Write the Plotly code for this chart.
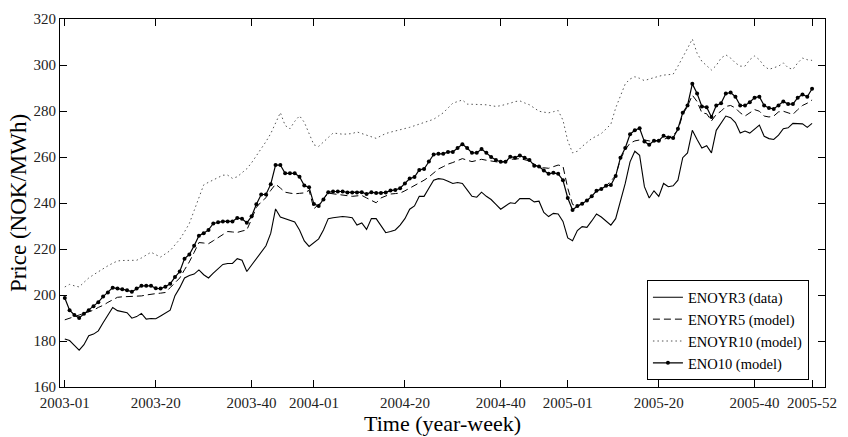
import plotly.graph_objects as go

# week index 0 = 2003-01 ... 156 = 2005-52
tick_pos = [0, 19, 39, 52, 71, 91, 105, 124, 144, 156]
tick_text = ["2003-01", "2003-20", "2003-40", "2004-01", "2004-20", "2004-40",
             "2005-01", "2005-20", "2005-40", "2005-52"]

enoyr3 = [180.9, 180.2, 178.1, 176.0, 178.4, 182.3, 183.0, 184.4, 187.9, 191.3,
          194.6, 193.2, 192.7, 192.3, 189.9, 190.6, 192.0, 189.5, 189.8, 189.7,
          190.9, 192.0, 193.4, 199.7, 203.2, 207.4, 208.5, 209.1, 210.9, 208.8,
          207.4, 209.5, 211.3, 213.3, 213.7, 213.7, 215.8, 215.1, 210.2, 213.0,
          215.8, 218.6, 221.4, 226.9, 237.4, 233.9, 233.2, 232.8, 231.8, 228.3,
          223.5, 221.1, 222.8, 224.4, 228.3, 233.2, 233.6, 233.9, 234.1, 233.9,
          233.6, 230.4, 231.3, 228.5, 233.2, 233.2, 230.4, 227.1, 227.6, 228.3,
          230.4, 233.2, 237.3, 238.7, 242.9, 242.9, 246.4, 249.9, 250.6, 250.3,
          249.5, 248.5, 248.9, 248.5, 245.7, 242.9, 242.5, 244.7, 242.9, 241.5,
          239.4, 237.3, 238.7, 240.1, 239.8, 241.9, 241.9, 241.9, 240.5, 240.8,
          235.9, 234.1, 235.5, 235.2, 232.0, 224.8, 223.6, 228.0, 229.7, 229.4,
          232.2, 235.2, 233.9, 232.2, 230.4, 233.2, 240.8, 248.5, 257.9, 262.5,
          260.7, 247.1, 242.2, 245.3, 242.9, 248.5, 247.1, 247.5, 249.9, 259.7,
          261.8, 271.6, 267.6, 263.9, 264.9, 261.8, 271.6, 275.0, 277.8, 277.1,
          275.0, 270.4, 271.3, 270.4, 272.3, 273.9, 269.0, 268.0, 267.6, 269.5,
          272.3, 272.7, 274.6, 274.6, 274.4, 272.9, 274.6]

enoyr5 = [189.2, 189.8, 190.5, 191.3, 192.0, 192.8, 193.4, 194.6, 195.5, 196.8,
          198.0, 199.0, 199.2, 199.3, 199.3, 199.4, 199.6, 200.0, 200.4, 200.6,
          200.8, 201.1, 203.2, 205.5, 207.4, 211.0, 214.4, 218.5, 222.8, 222.6,
          222.3, 223.6, 224.9, 226.5, 227.6, 227.4, 227.2, 227.8, 228.3, 233.0,
          238.1, 240.5, 242.3, 245.5, 248.2, 246.5, 244.7, 244.3, 244.0, 244.2,
          244.4, 245.5, 237.5, 239.4, 242.0, 244.3, 244.0, 243.8, 243.6, 243.2,
          242.9, 243.1, 243.3, 242.2, 241.0, 240.1, 242.2, 243.0, 243.9, 244.1,
          244.3, 245.3, 246.4, 247.4, 248.5, 249.9, 251.3, 253.0, 254.8, 255.8,
          256.9, 257.6, 258.3, 259.3, 258.6, 258.0, 258.5, 259.0, 258.6, 258.3,
          258.0, 257.6, 258.3, 259.0, 259.1, 259.3, 258.8, 258.3, 256.9, 255.5,
          255.3, 255.1, 255.8, 256.5, 256.0, 246.4, 239.4, 238.5, 239.7, 240.8,
          242.9, 245.0, 246.2, 247.5, 249.5, 252.0, 259.0, 263.2, 266.0, 267.0,
          267.4, 267.4, 267.0, 266.7, 267.2, 267.6, 268.5, 269.5, 271.6, 278.5,
          282.0, 286.9, 284.1, 279.2, 278.8, 275.7, 278.5, 279.9, 282.0, 282.4,
          281.3, 279.2, 277.8, 279.2, 280.6, 279.9, 277.8, 277.4, 277.8, 279.6,
          279.9, 279.2, 278.5, 280.6, 282.4, 283.4, 284.8]

enoyr10 = [203.5, 204.6, 204.0, 203.5, 205.5, 207.4, 208.8, 210.2, 211.5, 212.7,
           213.8, 214.8, 215.0, 215.1, 215.1, 215.1, 216.1, 217.4, 218.6, 217.5,
           216.5, 217.9, 219.3, 221.8, 224.2, 227.5, 231.1, 236.7, 242.3, 247.9,
           249.0, 250.0, 251.0, 252.1, 252.1, 250.7, 251.4, 253.0, 254.9, 257.5,
           260.5, 263.5, 266.7, 270.2, 274.4, 279.3, 273.7, 272.3, 275.5, 277.9,
           275.1, 270.2, 265.3, 264.6, 266.5, 268.8, 270.4, 270.2, 269.9, 270.0,
           270.2, 270.9, 270.2, 269.5, 268.8, 268.1, 269.2, 270.2, 270.8, 271.3,
           271.8, 272.2, 272.9, 273.6, 274.3, 275.0, 275.7, 276.4, 277.8, 279.2,
           281.3, 283.4, 284.1, 284.8, 283.0, 283.0, 283.0, 282.8, 282.7, 282.3,
           282.0, 282.3, 282.7, 283.4, 284.1, 284.4, 283.5, 282.7, 281.3, 279.9,
           279.5, 279.2, 279.7, 280.2, 276.0, 267.0, 261.8, 262.5, 264.6, 266.3,
           268.0, 269.1, 270.2, 272.2, 274.3, 281.3, 286.9, 291.8, 293.9, 294.9,
           294.2, 293.2, 293.9, 294.6, 295.1, 295.6, 295.8, 296.0, 299.5, 303.7,
           307.2, 311.3, 305.1, 301.6, 299.5, 297.8, 299.8, 303.0, 304.4, 303.0,
           300.9, 299.5, 299.5, 302.3, 303.9, 302.3, 299.5, 298.1, 298.8, 299.5,
           300.9, 298.8, 298.1, 300.9, 303.0, 302.3, 302.0]

eno10 = [198.7, 193.4, 191.3, 190.0, 191.8, 193.4, 195.1, 196.9, 199.3, 201.1,
         203.2, 202.8, 202.5, 202.1, 201.4, 202.8, 204.0, 204.0, 204.0, 202.9,
         202.8, 203.6, 204.9, 207.8, 210.2, 215.8, 217.6, 221.4, 225.8, 226.9,
         228.3, 231.1, 231.6, 232.0, 232.0, 232.0, 233.5, 233.1, 231.4, 234.2,
         239.5, 243.7, 243.7, 248.2, 256.5, 256.5, 252.9, 252.9, 252.9, 251.4,
         247.6, 246.8, 239.6, 238.7, 241.5, 244.7, 245.0, 245.0, 245.0, 244.6,
         244.6, 244.6, 244.7, 243.9, 244.7, 244.3, 244.3, 244.6, 245.4, 245.7,
         246.4, 248.5, 250.6, 251.3, 254.4, 254.8, 258.0, 261.1, 261.4, 261.4,
         262.2, 262.2, 263.9, 265.5, 263.9, 261.8, 261.8, 263.5, 261.8, 260.0,
         258.7, 257.9, 257.9, 260.1, 259.7, 260.7, 259.7, 258.7, 256.2, 255.9,
         254.1, 252.7, 253.1, 252.7, 249.9, 242.2, 237.0, 238.7, 239.7, 241.1,
         242.9, 245.3, 246.1, 247.5, 247.8, 251.7, 259.7, 263.9, 269.9, 271.6,
         272.5, 266.7, 265.3, 267.1, 267.1, 269.2, 268.5, 268.3, 272.3, 279.2,
         282.4, 291.8, 287.6, 282.0, 281.6, 277.4, 282.4, 283.4, 287.6, 288.0,
         286.2, 282.4, 282.4, 283.8, 285.8, 286.2, 282.4, 281.3, 280.9, 282.4,
         284.1, 283.0, 283.0, 285.8, 287.2, 286.2, 289.7]

weeks = list(range(len(eno10)))
FONT = "Liberation Serif"

fig = go.Figure()
fig.add_trace(go.Scatter(x=weeks, y=enoyr3, mode="lines", name="ENOYR3 (data)",
                         line=dict(color="black", width=1.1)))
fig.add_trace(go.Scatter(x=weeks, y=enoyr5, mode="lines", name="ENOYR5 (model)",
                         line=dict(color="black", width=1, dash="7px,4px")))
fig.add_trace(go.Scatter(x=weeks, y=enoyr10, mode="lines", name="ENOYR10 (model)",
                         line=dict(color="#555555", width=1, dash="1.5px,3px")))
fig.add_trace(go.Scatter(x=weeks, y=eno10, mode="lines+markers", name="ENO10 (model)",
                         line=dict(color="black", width=1.2),
                         marker=dict(color="black", size=4, symbol="circle")))

axis_common = dict(showline=True, linecolor="black", linewidth=1, mirror="ticks",
                   ticks="inside", ticklen=7, tickcolor="black", tickwidth=1,
                   showgrid=False, zeroline=False,
                   tickfont=dict(family=FONT, size=15, color="#222"))

fig.update_layout(
    width=848, height=437,
    margin=dict(l=60, r=14, t=11, b=44),
    paper_bgcolor="white", plot_bgcolor="white",
    font=dict(family=FONT, color="black"),
    xaxis=dict(range=[-1, 158.7], tickmode="array", tickvals=tick_pos, ticktext=tick_text,
               ticklabelstandoff=2,
               title=dict(text="Time (year-week)", font=dict(family=FONT, size=22), standoff=0),
               **axis_common),
    yaxis=dict(range=[160, 320], tickmode="array", tickvals=list(range(160, 321, 20)),
               title=dict(text="Price (NOK/MWh)", font=dict(family=FONT, size=23), standoff=0),
               **axis_common),
    legend=dict(x=0.979, y=0.018, xanchor="right", yanchor="bottom",
                bgcolor="white", bordercolor="black", borderwidth=1,
                font=dict(family=FONT, size=14.5, color="black"), tracegroupgap=0,
                itemwidth=30),
    showlegend=True,
)

fig.write_html("out.html")
